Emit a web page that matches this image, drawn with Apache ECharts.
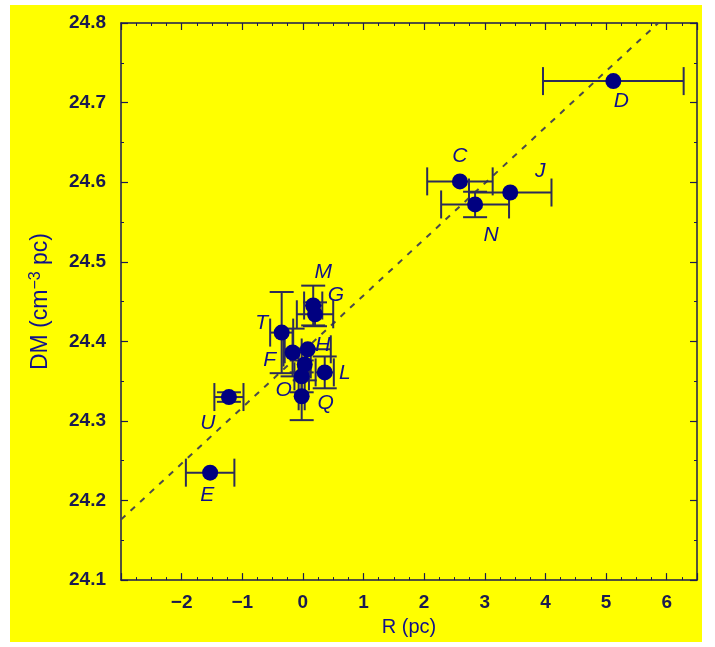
<!DOCTYPE html>
<html><head><meta charset="utf-8">
<script src="https://cdn.jsdelivr.net/npm/echarts@6/dist/echarts.min.js"></script>
<style>
html,body{margin:0;padding:0;background:#fff;}
#panel{position:absolute;left:10px;top:5px;width:692px;height:637px;background:#ffff00;}
#chart{width:692px;height:637px;}
</style></head>
<body><div id="panel"><div id="chart"></div></div>
<script>
// ---- data ----
const names = ['D','C','J','N','M','G','T','H','F','K','O','L','Q','U','E'];
const rValues = [5.12, 2.59, 3.42, 2.84, 0.17, 0.20, -0.35, 0.08, -0.17, 0.03, -0.02, 0.36, -0.02, -1.22, -1.53];
const dmValues = [24.727, 24.601, 24.587, 24.572, 24.445, 24.434, 24.411, 24.390, 24.386, 24.371, 24.356, 24.361, 24.331, 24.330, 24.235];
const rErrors = [1.16, 0.54, 0.68, 0.56, 0.15, 0.30, 0.19, 0.38, 0.15, 0.10, 0.12, 0.15, 0.05, 0.24, 0.40];
const dmErrors = [0, 0, 0, 0.016, 0.025, 0.015, 0.051, 0, 0.03, 0.02, 0.02, 0.02, 0.03, 0.006, 0];
const showLabel = [true, true, true, true, true, true, true, true, true, false, true, true, true, true, true];
const fitLine = [[-3, 24.176], [5.86, 24.8]];
const xTickValues = [-2, -1, 0, 1, 2, 3, 4, 5, 6];
const yTickValues = [24.1, 24.2, 24.3, 24.4, 24.5, 24.6, 24.7, 24.8];

// ---- style (label placement, px offsets) ----
const labelOffsets = [[8,20],[0,-25],[30,-21],[16,31],[10,-33],[21,-19],[-20,-9],[15,-4],[-23,8],[0,0],[-18,14],[20,1],[24,7],[-21,26],[-3,22]];

const NAVY = '#10108a';
const AXIS = '#1a1a50';
const BAR = '#2c2c58';
const FONT = 'Liberation Sans';

const chart = echarts.init(document.getElementById('chart'));

const errData = names.map((n, i) => [rValues[i], dmValues[i], rErrors[i], dmErrors[i]]);
const ptData = names.map((n, i) => ({
  value: [rValues[i], dmValues[i]],
  name: n,
  label: { show: showLabel[i], offset: labelOffsets[i] }
}));

function renderErr(params, api) {
  const x = api.value(0), y = api.value(1), xe = api.value(2), ye = api.value(3);
  const children = [];
  const st = { stroke: BAR, lineWidth: 2 };
  if (xe > 0) {
    const l = api.coord([x - xe, y]), r = api.coord([x + xe, y]);
    children.push({ type: 'line', shape: { x1: l[0], y1: l[1], x2: r[0], y2: r[1] }, style: st });
    children.push({ type: 'line', shape: { x1: l[0], y1: l[1] - 14, x2: l[0], y2: l[1] + 14 }, style: st });
    children.push({ type: 'line', shape: { x1: r[0], y1: r[1] - 14, x2: r[0], y2: r[1] + 14 }, style: st });
  }
  if (ye > 0) {
    const t = api.coord([x, y + ye]), b = api.coord([x, y - ye]);
    children.push({ type: 'line', shape: { x1: t[0], y1: t[1], x2: b[0], y2: b[1] }, style: st });
    children.push({ type: 'line', shape: { x1: t[0] - 12, y1: t[1], x2: t[0] + 12, y2: t[1] }, style: st });
    children.push({ type: 'line', shape: { x1: b[0] - 12, y1: b[1], x2: b[0] + 12, y2: b[1] }, style: st });
  }
  return { type: 'group', children };
}

const fmtX = v => xTickValues.indexOf(Math.round(v)) >= 0 && Math.abs(v - Math.round(v)) < 1e-6 ? String(Math.round(v)).replace('-', '\u2212') : '';
const fmtY = v => { const s = (Math.round(v * 10) / 10).toFixed(1); return yTickValues.some(t => Math.abs(t - v) < 1e-6) ? s : ''; };

const commonAxis = {
  axisLine: { show: true, onZero: false, lineStyle: { color: AXIS, width: 1.5 } },
  axisTick: { show: true, inside: true, length: 7, lineStyle: { color: AXIS, width: 1.2 } },
  minorTick: { show: true, length: 3, lineStyle: { color: AXIS, width: 1 } },
  splitLine: { show: false }
};

chart.setOption({
  animation: false,
  textStyle: { fontFamily: FONT },
  grid: { left: 111, top: 18, width: 576, height: 560, containLabel: false },
  xAxis: [
    Object.assign({}, commonAxis, {
      type: 'value', min: -3, max: 6.5, interval: 1, position: 'bottom',
      minorTick: Object.assign({}, commonAxis.minorTick, { splitNumber: 4 }),
      axisLabel: { formatter: fmtX, color: AXIS, fontSize: 19, fontWeight: 'bold', margin: 13, showMinLabel: false, showMaxLabel: false, fontFamily: FONT },
      name: 'R (pc)', nameLocation: 'middle', nameGap: 36,
      nameTextStyle: { color: NAVY, fontSize: 20, fontFamily: FONT }
    }),
    Object.assign({}, commonAxis, {
      type: 'value', min: -3, max: 6.5, interval: 1, position: 'top',
      minorTick: Object.assign({}, commonAxis.minorTick, { splitNumber: 4 }),
      axisLabel: { show: false }
    })
  ],
  yAxis: [
    Object.assign({}, commonAxis, {
      type: 'value', min: 24.1, max: 24.8, interval: 0.1, position: 'left',
      minorTick: Object.assign({}, commonAxis.minorTick, { splitNumber: 2 }),
      axisLabel: { formatter: fmtY, color: AXIS, fontSize: 19, fontWeight: 'bold', margin: 15, fontFamily: FONT },
      name: '{n|DM (cm}{s|\u22123}{n| pc)}', nameLocation: 'middle', nameGap: 67, nameRotate: 90,
      nameTextStyle: { color: NAVY, fontFamily: FONT, rich: {
        n: { fontSize: 23, color: NAVY, fontFamily: FONT },
        s: { fontSize: 16, color: NAVY, fontFamily: FONT, padding: [0, 0, 10, 0] }
      } }
    }),
    Object.assign({}, commonAxis, {
      type: 'value', min: 24.1, max: 24.8, interval: 0.1, position: 'right',
      minorTick: Object.assign({}, commonAxis.minorTick, { splitNumber: 2 }),
      axisLabel: { show: false }
    })
  ],
  series: [
    {
      type: 'line', data: fitLine, symbol: 'none', silent: true,
      lineStyle: { color: '#4a4a4a', width: 2, type: [6, 7] }, z: 1
    },
    {
      type: 'custom', data: errData, renderItem: renderErr, z: 2, silent: true,
      encode: { x: 0, y: 1 }
    },
    {
      type: 'scatter', data: ptData, symbol: 'circle', symbolSize: 16, z: 3,
      itemStyle: { color: '#000080', opacity: 1 },
      label: {
        show: true, position: 'inside', formatter: p => p.name,
        color: NAVY, fontSize: 21, fontStyle: 'italic', fontFamily: FONT
      }
    }
  ]
});
</script></body></html>
